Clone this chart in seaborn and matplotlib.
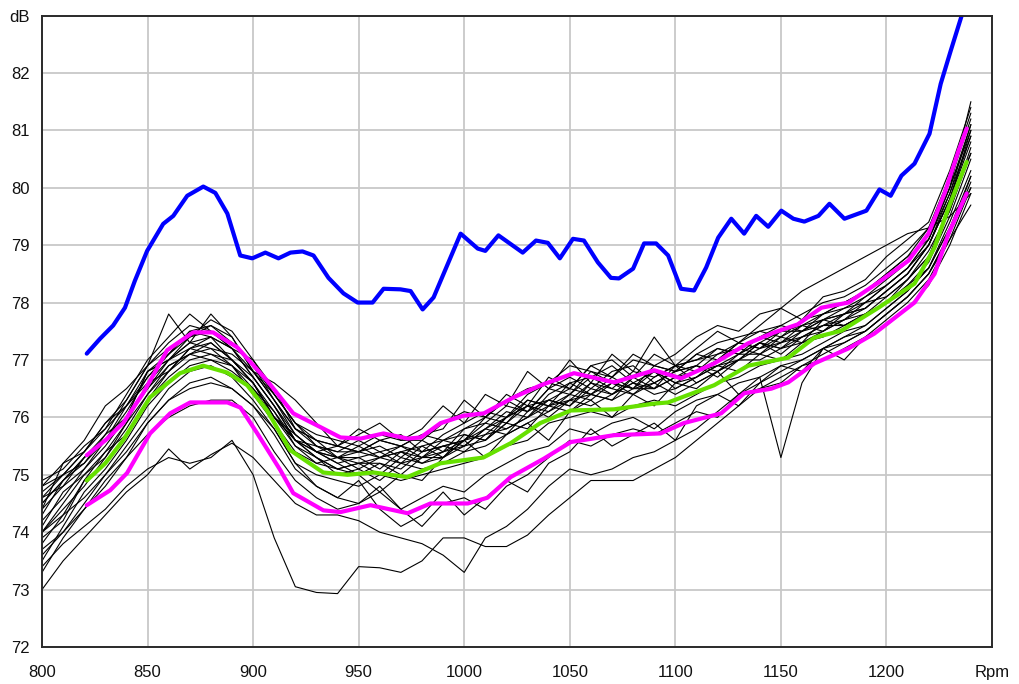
import matplotlib
matplotlib.use("Agg")
import matplotlib.pyplot as plt
import pandas as pd
import seaborn as sns

# ---------------- data ----------------
RPM_GRID = list(range(800, 1250, 10))  # 45 sample positions of the measured runs

RUN_01 = [74.8, 75.0, 75.4, 75.9, 76.3, 76.9, 77.3, 77.6, 77.5, 77.3, 76.9, 76.4, 75.9, 75.7, 75.6, 75.5, 75.7, 75.6, 75.6, 75.9, 76.1, 76.0, 76.3, 76.5, 76.6, 76.9, 76.8, 76.7, 77.0, 76.9, 76.8, 77.1, 77.3, 77.4, 77.5, 77.6, 77.8, 78.0, 78.1, 78.3, 78.6, 78.9, 79.3, 80.2, 81.3]
RUN_02 = [74.0, 74.5, 75.0, 75.3, 75.8, 76.4, 76.8, 77.2, 77.4, 77.0, 76.6, 76.1, 75.6, 75.3, 75.1, 75.2, 75.0, 75.3, 75.2, 75.4, 75.6, 75.9, 75.8, 76.0, 76.3, 76.2, 76.6, 76.4, 76.7, 76.5, 76.7, 76.9, 76.8, 77.1, 77.3, 77.2, 77.5, 77.6, 77.8, 77.9, 78.2, 78.5, 79.0, 79.8, 81.0]
RUN_03 = [74.5, 74.9, 75.2, 75.6, 76.1, 76.7, 77.1, 77.5, 77.6, 77.4, 76.8, 76.3, 75.8, 75.5, 75.4, 75.6, 75.4, 75.2, 75.5, 75.6, 75.5, 75.8, 76.1, 76.0, 76.4, 76.6, 76.4, 76.7, 76.5, 76.8, 76.6, 76.7, 77.0, 77.2, 77.1, 77.4, 77.6, 77.5, 77.8, 78.1, 78.3, 78.6, 79.1, 80.0, 81.5]
RUN_04 = [73.8, 74.3, 74.9, 75.4, 75.7, 76.3, 76.7, 77.0, 77.1, 76.9, 76.6, 76.0, 75.5, 75.2, 75.3, 75.1, 75.3, 75.4, 75.2, 75.3, 75.7, 75.6, 75.9, 76.2, 76.1, 76.4, 76.3, 76.6, 76.4, 76.7, 76.9, 76.6, 76.8, 77.0, 77.3, 77.2, 77.3, 77.7, 77.6, 77.8, 78.0, 78.3, 78.7, 79.5, 80.5]
RUN_05 = [74.9, 75.1, 75.5, 75.8, 76.4, 77.0, 77.4, 77.8, 77.5, 77.2, 77.0, 76.5, 75.8, 75.6, 75.5, 75.8, 75.6, 75.7, 75.4, 75.7, 75.9, 76.1, 76.0, 76.4, 76.6, 76.5, 76.9, 77.0, 76.7, 77.1, 76.9, 77.0, 77.2, 77.1, 77.4, 77.6, 77.5, 77.8, 78.0, 78.2, 78.5, 78.8, 79.3, 80.1, 81.2]
RUN_06 = [74.2, 74.6, 75.1, 75.5, 76.0, 76.5, 77.0, 77.3, 77.4, 77.2, 76.7, 76.2, 75.6, 75.4, 75.2, 75.0, 75.2, 75.1, 75.4, 75.5, 75.4, 75.7, 76.0, 76.2, 76.0, 76.3, 76.6, 76.5, 76.4, 76.6, 76.8, 76.9, 76.7, 77.0, 77.2, 77.4, 77.3, 77.5, 77.7, 78.0, 78.1, 78.4, 78.8, 79.6, 80.7]
RUN_07 = [74.6, 74.8, 75.3, 75.7, 76.0, 76.8, 77.1, 77.4, 77.7, 77.5, 77.0, 76.4, 75.9, 75.5, 75.4, 75.4, 75.5, 75.3, 75.6, 75.4, 75.8, 75.9, 76.2, 76.1, 76.5, 76.4, 76.7, 76.9, 76.6, 76.5, 76.9, 77.0, 77.1, 77.3, 77.2, 77.5, 77.6, 77.8, 77.9, 78.1, 78.4, 78.7, 79.2, 80.0, 81.1]
RUN_08 = [73.5, 74.1, 74.7, 75.1, 75.6, 76.2, 76.6, 76.9, 77.0, 76.8, 76.5, 76.1, 75.5, 75.3, 75.0, 75.1, 74.9, 75.2, 75.1, 75.2, 75.4, 75.5, 75.7, 75.9, 76.1, 76.3, 76.2, 76.4, 76.6, 76.4, 76.5, 76.7, 76.9, 76.8, 77.1, 77.0, 77.3, 77.4, 77.6, 77.8, 78.0, 78.3, 78.6, 79.4, 80.3]
RUN_09 = [74.3, 74.9, 75.3, 75.6, 76.2, 76.6, 77.0, 77.3, 77.2, 77.1, 76.8, 76.3, 75.7, 75.4, 75.3, 75.4, 75.3, 75.5, 75.3, 75.6, 75.7, 75.6, 76.0, 76.2, 76.3, 76.5, 76.4, 76.3, 76.7, 76.8, 76.6, 76.8, 77.0, 77.3, 77.2, 77.3, 77.5, 77.7, 77.8, 77.9, 78.2, 78.5, 79.0, 79.9, 80.9]
RUN_10 = [74.7, 75.0, 75.2, 75.7, 76.3, 76.9, 77.2, 77.4, 77.6, 77.3, 76.9, 76.3, 75.8, 75.6, 75.3, 75.3, 75.4, 75.5, 75.4, 75.5, 75.6, 76.0, 75.9, 76.3, 76.2, 76.6, 76.7, 76.5, 76.8, 76.7, 76.9, 76.8, 77.1, 77.2, 77.4, 77.3, 77.6, 77.7, 77.9, 78.0, 78.3, 78.6, 79.0, 79.8, 80.8]
RUN_11 = [74.0, 74.4, 74.8, 75.3, 75.9, 76.4, 76.9, 77.1, 77.3, 77.0, 76.7, 76.2, 75.7, 75.4, 75.3, 75.2, 75.3, 75.2, 75.3, 75.5, 75.6, 75.7, 75.8, 76.0, 76.2, 76.3, 76.4, 76.6, 76.5, 76.5, 76.7, 76.8, 76.9, 77.1, 77.1, 77.3, 77.4, 77.6, 77.6, 77.8, 78.1, 78.4, 78.9, 79.6, 80.6]
RUN_12 = [74.4, 75.2, 75.6, 76.2, 76.5, 76.9, 77.8, 77.3, 77.8, 77.4, 76.8, 76.6, 76.3, 75.9, 75.5, 75.7, 75.9, 75.6, 75.8, 76.2, 75.9, 76.4, 76.2, 76.8, 76.5, 77.0, 76.6, 77.1, 76.8, 77.4, 76.9, 77.2, 77.5, 77.3, 77.6, 77.9, 77.7, 78.1, 78.2, 78.4, 78.8, 79.1, 79.4, 80.3, 81.4]
RUN_13 = [73.6, 74.0, 74.5, 75.0, 75.5, 76.0, 76.5, 76.8, 76.9, 76.7, 76.3, 75.8, 75.2, 75.0, 74.9, 74.8, 75.0, 74.9, 75.0, 75.1, 75.2, 75.3, 75.5, 75.6, 75.9, 76.0, 76.1, 76.0, 76.2, 76.3, 76.2, 76.4, 76.6, 76.7, 76.9, 77.0, 77.1, 77.3, 77.5, 77.6, 77.9, 78.2, 78.6, 79.3, 80.2]
RUN_14 = [74.1, 74.7, 75.0, 75.4, 75.9, 76.6, 76.8, 77.2, 77.1, 77.0, 76.6, 76.0, 75.6, 75.4, 75.2, 75.3, 75.1, 75.4, 75.3, 75.3, 75.5, 75.8, 75.7, 76.1, 76.3, 76.2, 76.5, 76.4, 76.6, 76.8, 76.5, 76.7, 76.9, 77.0, 77.3, 77.1, 77.4, 77.6, 77.7, 77.9, 78.2, 78.5, 79.0, 79.8, 80.9]
RUN_15 = [73.3, 73.9, 74.4, 74.9, 75.3, 75.9, 76.3, 76.6, 76.7, 76.5, 76.2, 75.7, 75.1, 74.8, 74.6, 74.5, 74.7, 74.4, 74.6, 74.8, 74.7, 75.0, 75.2, 75.4, 75.5, 75.8, 75.7, 75.9, 76.0, 75.8, 76.1, 76.3, 76.4, 76.6, 76.7, 76.9, 77.0, 77.2, 77.3, 77.5, 77.8, 78.1, 78.5, 79.2, 80.1]
RUN_16 = [74.6, 75.0, 75.4, 75.8, 76.2, 76.7, 77.1, 77.5, 77.4, 77.2, 76.8, 76.4, 75.9, 75.6, 75.5, 75.4, 75.6, 75.5, 75.7, 75.6, 75.8, 76.0, 76.3, 76.1, 76.5, 76.7, 76.5, 76.8, 76.9, 76.6, 76.8, 77.1, 77.0, 77.3, 77.5, 77.4, 77.7, 77.8, 78.0, 78.2, 78.5, 78.8, 79.1, 80.0, 81.0]
RUN_17 = [73.9, 74.2, 74.9, 75.2, 75.7, 76.3, 76.8, 77.1, 77.2, 76.9, 76.4, 75.9, 75.4, 75.2, 75.1, 75.2, 75.2, 75.0, 75.3, 75.4, 75.5, 75.6, 75.9, 75.8, 76.2, 76.1, 76.4, 76.3, 76.5, 76.6, 76.4, 76.6, 76.8, 77.0, 77.0, 77.2, 77.4, 77.5, 77.7, 77.8, 78.0, 78.4, 78.8, 79.7, 80.6]
RUN_18 = [74.4, 74.8, 75.1, 75.6, 76.0, 76.8, 77.0, 77.4, 77.5, 77.2, 76.7, 76.2, 75.6, 75.5, 75.3, 75.5, 75.3, 75.4, 75.5, 75.3, 75.6, 75.8, 76.0, 76.3, 76.2, 76.4, 76.8, 76.6, 76.5, 76.9, 76.8, 76.9, 77.2, 77.1, 77.3, 77.5, 77.5, 77.7, 77.8, 78.0, 78.3, 78.6, 79.1, 79.9, 81.1]
RUN_19 = [73.4, 73.8, 74.1, 74.4, 74.8, 75.1, 75.3, 75.2, 75.3, 75.6, 75.0, 73.9, 73.05, 72.95, 72.93, 73.4, 73.38, 73.3, 73.5, 73.9, 73.9, 73.75, 73.75, 73.95, 74.3, 74.6, 74.9, 74.9, 74.9, 75.1, 75.3, 75.6, 75.9, 76.2, 76.5, 76.7, 76.9, 77.1, 77.3, 77.5, 77.8, 78.1, 78.5, 79.1, 79.7]
RUN_20 = [73.0, 73.5, 73.9, 74.3, 74.7, 75.0, 75.45, 75.1, 75.35, 75.55, 75.3, 74.9, 74.5, 74.3, 74.3, 74.2, 74.0, 73.9, 73.8, 73.6, 73.3, 73.9, 74.1, 74.4, 74.8, 75.1, 75.0, 75.1, 75.3, 75.4, 75.6, 75.8, 76.1, 76.4, 76.6, 76.8, 77.0, 77.2, 77.4, 77.6, 77.9, 78.2, 78.6, 79.3, 80.0]
RUN_21 = [73.7, 74.0, 74.4, 74.8, 75.3, 75.7, 76.0, 76.2, 76.3, 76.3, 76.0, 75.4, 74.9, 74.6, 74.4, 74.5, 74.8, 74.4, 74.1, 74.5, 74.6, 74.4, 74.8, 75.0, 75.3, 75.6, 75.5, 75.7, 75.8, 75.7, 75.9, 76.1, 76.0, 76.4, 76.5, 76.6, 76.9, 77.0, 77.2, 77.4, 77.6, 77.9, 78.3, 79.0, 79.9]
RUN_22 = [74.0, 74.3, 74.6, 75.0, 75.4, 75.9, 76.3, 76.5, 76.6, 76.5, 76.2, 75.8, 75.2, 74.8, 74.6, 74.9, 74.4, 74.1, 74.3, 74.7, 74.3, 74.6, 74.9, 74.7, 75.2, 75.4, 75.8, 75.5, 75.7, 75.9, 75.6, 76.2, 76.4, 76.2, 76.6, 76.9, 76.8, 77.2, 77.4, 77.5, 77.8, 78.1, 78.5, 79.2, 80.2]
RUN_23 = [74.5, 74.9, 75.3, 75.6, 76.0, 76.5, 76.9, 77.1, 77.0, 76.9, 76.5, 76.0, 75.6, 75.3, 75.1, 75.0, 74.7, 75.0, 74.9, 75.3, 75.6, 75.3, 75.7, 75.9, 75.6, 76.1, 76.3, 76.0, 76.4, 76.2, 76.6, 76.5, 76.8, 76.4, 76.7, 75.3, 76.6, 77.2, 77.0, 77.4, 77.7, 78.0, 78.4, 79.1, 80.0]
RUN_24 = [74.8, 75.2, 75.4, 75.9, 76.2, 76.8, 77.0, 77.2, 77.3, 77.0, 76.6, 76.0, 75.7, 75.4, 75.5, 75.4, 75.6, 75.5, 75.7, 75.8, 76.3, 76.0, 76.4, 76.2, 76.7, 76.5, 76.9, 76.7, 77.1, 76.9, 77.1, 77.4, 77.6, 77.5, 77.8, 77.9, 78.2, 78.4, 78.6, 78.8, 79.0, 79.2, 79.3, 79.5, 79.9]
RUNS = [RUN_01, RUN_02, RUN_03, RUN_04, RUN_05, RUN_06, RUN_07, RUN_08, RUN_09, RUN_10, RUN_11, RUN_12,
        RUN_13, RUN_14, RUN_15, RUN_16, RUN_17, RUN_18, RUN_19, RUN_20, RUN_21, RUN_22, RUN_23, RUN_24]

MAX_RPM = [821.2, 827.5, 833.7, 839.3, 844.0, 849.8, 857.4, 862.2, 868.8, 876.4, 882.1, 887.8, 893.9, 899.6,
           905.8, 912.0, 917.7, 923.4, 928.6, 935.7, 942.8, 949.5, 956.6, 961.8, 969.8, 974.6, 980.3, 985.5,
           998.3, 1006.4, 1010.0, 1016.2, 1027.7, 1034.0, 1039.6, 1045.3, 1051.5, 1056.7, 1063.3, 1069.5,
           1073.3, 1080.0, 1085.2, 1090.9, 1096.6, 1102.7, 1108.9, 1114.6, 1120.3, 1126.5, 1132.6, 1138.3,
           1144.0, 1150.2, 1155.9, 1161.1, 1167.8, 1173.0, 1180.1, 1190.5, 1196.7, 1202.0, 1207.1, 1213.3,
           1220.4, 1225.7, 1230.4, 1236.5]
MAX_DB = [77.11, 77.37, 77.60, 77.91, 78.38, 78.90, 79.37, 79.51, 79.86, 80.02, 79.91, 79.55, 78.82, 78.77,
          78.87, 78.77, 78.87, 78.89, 78.82, 78.43, 78.16, 78.00, 78.00, 78.24, 78.23, 78.20, 77.88, 78.09,
          79.20, 78.94, 78.90, 79.17, 78.87, 79.08, 79.04, 78.77, 79.11, 79.08, 78.70, 78.43,
          78.42, 78.59, 79.03, 79.03, 78.82, 78.24, 78.21, 78.61, 79.13, 79.46, 79.20, 79.51,
          79.32, 79.60, 79.46, 79.41, 79.51, 79.72, 79.46, 79.60, 79.97, 79.86, 80.21, 80.42,
          80.94, 81.81, 82.38, 83.10]

MEAN_RPM = [821.2, 830.0, 838.4, 851.2, 865.4, 876.3, 887.7, 897.2, 906.6, 917.5, 933.2, 944.7, 957.0,
            973.0, 988.7, 1009.0, 1022.0, 1036.0, 1050.5, 1071.0, 1090.0, 1096.6, 1118.4, 1134.5,
            1153.5, 1165.9, 1178.7, 1196.2, 1213.3, 1222.8, 1229.4, 1238.0]
MEAN_DB = [74.90, 75.20, 75.60, 76.35, 76.77, 76.90, 76.78, 76.56, 76.12, 75.43, 75.04, 75.00, 75.04,
           74.96, 75.20, 75.30, 75.55, 75.90, 76.12, 76.14, 76.24, 76.26, 76.56, 76.90,
           77.04, 77.39, 77.51, 77.91, 78.33, 78.96, 79.65, 80.45]

UPPER_RPM = [821.2, 830.0, 838.4, 847.9, 859.3, 871.6, 881.0, 892.5, 906.6, 919.0, 931.9, 941.4, 950.9,
             961.8, 973.2, 979.4, 988.8, 999.8, 1009.3, 1023.5, 1036.3, 1052.0, 1071.0, 1090.0, 1102.7,
             1118.4, 1134.5, 1146.9, 1158.0, 1169.2, 1182.0, 1196.2, 1210.4, 1219.9, 1227.5, 1234.1, 1238.0]
UPPER_DB = [75.34, 75.60, 75.90, 76.42, 77.17, 77.48, 77.48, 77.22, 76.64, 76.07, 75.83, 75.65, 75.63,
            75.72, 75.63, 75.65, 75.90, 76.03, 76.07, 76.35, 76.56, 76.77, 76.61, 76.82, 76.68,
            76.94, 77.29, 77.48, 77.62, 77.91, 78.00, 78.35, 78.73, 79.20, 79.90, 80.64, 81.03]

LOWER_RPM = [821.2, 832.3, 840.3, 851.2, 860.7, 870.2, 887.8, 894.0, 902.0, 912.9, 919.0, 933.3, 941.4,
             955.6, 973.2, 984.0, 1001.7, 1011.0, 1022.0, 1037.7, 1050.5, 1071.0, 1093.0, 1104.0,
             1121.7, 1132.6, 1145.5, 1153.5, 1165.9, 1182.0, 1194.3, 1213.3, 1222.8, 1229.4, 1238.0]
LOWER_DB = [74.47, 74.73, 75.03, 75.72, 76.07, 76.26, 76.26, 76.17, 75.72, 75.08, 74.68, 74.38, 74.35,
            74.47, 74.33, 74.50, 74.50, 74.60, 74.96, 75.28, 75.57, 75.69, 75.72, 75.90,
            76.07, 76.42, 76.50, 76.61, 76.94, 77.20, 77.46, 78.00, 78.50, 79.20, 79.90]

X_TICKS = [800, 850, 900, 950, 1000, 1050, 1100, 1150, 1200, 1250]
X_LABELS = ["800", "850", "900", "950", "1000", "1050", "1100", "1150", "1200", "Rpm"]
Y_TICKS = [72, 73, 74, 75, 76, 77, 78, 79, 80, 81, 82, 83]
Y_LABELS = ["72", "73", "74", "75", "76", "77", "78", "79", "80", "81", "82", "dB"]

# ---------------- plot ----------------
sns.set_style("white")
plt.rcParams["font.family"] = ["Liberation Sans", "DejaVu Sans"]

W, H = 1020, 684
fig = plt.figure(figsize=(W / 100, H / 100), dpi=100)
ax = fig.add_axes([42 / W, 37 / H, 950 / W, 631.5 / H])

runs_df = pd.concat(
    [pd.DataFrame({"rpm": RPM_GRID, "db": r, "run": i}) for i, r in enumerate(RUNS)],
    ignore_index=True,
)
sns.lineplot(data=runs_df, x="rpm", y="db", units="run", estimator=None, color="black",
             linewidth=0.8, ax=ax, legend=False, sort=False)

sns.lineplot(x=MAX_RPM, y=MAX_DB, color="#0000ff", linewidth=3.0, ax=ax,
             estimator=None, sort=False, legend=False)
sns.lineplot(x=MEAN_RPM, y=MEAN_DB, color="#66e000", linewidth=3.0, ax=ax,
             estimator=None, sort=False, legend=False)
sns.lineplot(x=UPPER_RPM, y=UPPER_DB, color="#ff00ff", linewidth=3.0, ax=ax,
             estimator=None, sort=False, legend=False)
sns.lineplot(x=LOWER_RPM, y=LOWER_DB, color="#ff00ff", linewidth=3.0, ax=ax,
             estimator=None, sort=False, legend=False)

ax.set_xlim(800, 1250)
ax.set_ylim(72, 83)
ax.set_xticks(X_TICKS)
ax.set_xticklabels(X_LABELS)
ax.set_yticks(Y_TICKS)
ax.set_yticklabels(Y_LABELS)
ax.set_xlabel("")
ax.set_ylabel("")
ax.tick_params(axis="both", length=0, labelsize=12, colors="#111111")
ax.tick_params(axis="x", pad=13)
ax.tick_params(axis="y", pad=9)
ax.grid(True, color="#c8c8c8", linewidth=1.3)
ax.set_axisbelow(True)
for s in ax.spines.values():
    s.set_visible(True)
    s.set_color("#2a2a2a")
    s.set_linewidth(1.4)

fig.savefig("out.png", dpi=100, facecolor="white")
